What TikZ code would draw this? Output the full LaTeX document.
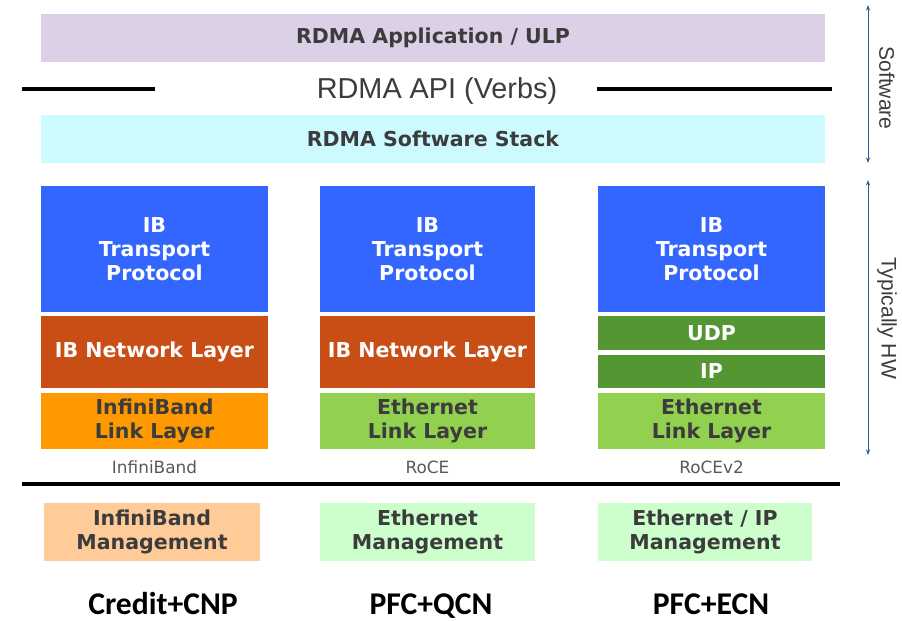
\documentclass[tikz,border=0pt]{standalone}
\usepackage{fontspec}
\setmainfont{DejaVu Sans}
\newfontfamily\arialfont{Liberation Sans}
\newfontfamily\calibrifont{Carlito}
\usetikzlibrary{
  arrows.meta   % Stealth 箭头
}

% 配色
\definecolor{appviolet}{RGB}{220,208,230}
\definecolor{stackcyan}{RGB}{204,250,255}
\definecolor{ibblue}{RGB}{51,102,255}
\definecolor{netrust}{RGB}{200,78,22}
\definecolor{iborange}{RGB}{255,153,0}
\definecolor{ethgreen}{RGB}{146,208,80}
\definecolor{udpgreen}{RGB}{84,150,50}
\definecolor{mgmtpeach}{RGB}{255,204,153}
\definecolor{mgmtgreen}{RGB}{204,255,204}
\definecolor{darktext}{RGB}{60,60,60}
\definecolor{arrowblue}{RGB}{46,94,142}

\begin{document}
\begin{tikzpicture}[>=Stealth, x=0.025cm, y=-0.025cm,
  layer/.style 2 args={rectangle, inner sep=0pt, align=center,
    minimum width=#1*0.025cm, minimum height=#2*0.025cm,
    text=darktext, font=\bfseries\fontsize{14.6}{17}\selectfont},
  hwlayer/.style={text=white},
  tag/.style={text=darktext!85, font=\fontsize{12}{14}\selectfont},
  cc/.style={anchor=base, font=\calibrifont\bfseries\fontsize{22.5}{26}\selectfont},
  side/.style={text=darktext, rotate=-90, font=\arialfont\fontsize{15}{17}\selectfont},
  rule/.style={line width=2.8pt}
]
  \useasboundingbox (0,0) rectangle (902,620);

  % 软件部分
  \node[layer={784}{48}, fill=appviolet] (app) at (433,38) {RDMA Application / ULP};
  \node[text=darktext, font=\arialfont\fontsize{20.5}{24}\selectfont] (api) at (437,91) {RDMA API (Verbs)};
  \coordinate (apiLa) at (22,89);  \coordinate (apiLb) at (155,89);
  \coordinate (apiRa) at (597,89); \coordinate (apiRb) at (832,89);
  \draw[rule] (apiLa) -- (apiLb);
  \draw[rule] (apiRa) -- (apiRb);
  \node[layer={784}{48}, fill=stackcyan] (stack) at (433,139) {RDMA Software Stack};

  % 三列协议栈
  \def\ca{154.5}
  \def\cb{427.5}
  \def\cc{711.5}
  \node[layer={227}{126}, hwlayer, fill=ibblue] (tpa) at (\ca,249) {IB\\Transport\\Protocol};
  \node[layer={215}{126}, hwlayer, fill=ibblue] (tpb) at (\cb,249) {IB\\Transport\\Protocol};
  \node[layer={227}{126}, hwlayer, fill=ibblue] (tpc) at (\cc,249) {IB\\Transport\\Protocol};

  \node[layer={227}{72}, hwlayer, fill=netrust] (neta) at (\ca,352) {IB Network Layer};
  \node[layer={215}{72}, hwlayer, fill=netrust] (netb) at (\cb,352) {IB Network Layer};
  \node[layer={227}{34}, hwlayer, fill=udpgreen] (udp) at (\cc,333) {UDP};
  \node[layer={227}{33}, hwlayer, fill=udpgreen] (ip) at (\cc,371.5) {IP};

  \node[layer={227}{56}, fill=iborange] (linka) at (\ca,421) {InfiniBand\\Link Layer};
  \node[layer={215}{56}, fill=ethgreen] (linkb) at (\cb,421) {Ethernet\\Link Layer};
  \node[layer={227}{56}, fill=ethgreen] (linkc) at (\cc,421) {Ethernet\\Link Layer};

  \node[tag] (taga) at (\ca,467) {InfiniBand};
  \node[tag] (tagb) at (\cb,467) {RoCE};
  \node[tag] (tagc) at (\cc,467) {RoCEv2};

  % 分隔线
  \coordinate (sepa) at (22,484);
  \coordinate (sepb) at (840,484);
  \draw[rule] (sepa) -- (sepb);

  % 管理层
  \node[layer={216}{58}, fill=mgmtpeach] (mgmta) at (152,532) {InfiniBand\\Management};
  \node[layer={215}{58}, fill=mgmtgreen] (mgmtb) at (\cb,532) {Ethernet\\Management};
  \node[layer={214}{58}, fill=mgmtgreen] (mgmtc) at (705,532) {Ethernet / IP\\Management};

  % 拥塞控制
  \node[cc] (cca) at (163,614) {Credit+CNP};
  \node[cc] (ccb) at (431,614) {PFC+QCN};
  \node[cc] (ccc) at (711,614) {PFC+ECN};

  % 右侧范围箭头
  \coordinate (swtop) at (868,5);   \coordinate (swbot) at (868,163);
  \coordinate (hwtop) at (868,180); \coordinate (hwbot) at (868,455);
  \draw[arrowblue, line width=0.6pt, {Stealth[length=4pt,width=3pt]}-{Stealth[length=4pt,width=3pt]}] (swtop) -- (swbot);
  \draw[arrowblue, line width=0.6pt, {Stealth[length=4pt,width=3pt]}-{Stealth[length=4pt,width=3pt]}] (hwtop) -- (hwbot);
  \node[side] (sw) at (887,88) {Software};
  \node[side] (hw) at (887,318) {Typically HW};
\end{tikzpicture}
\end{document}
